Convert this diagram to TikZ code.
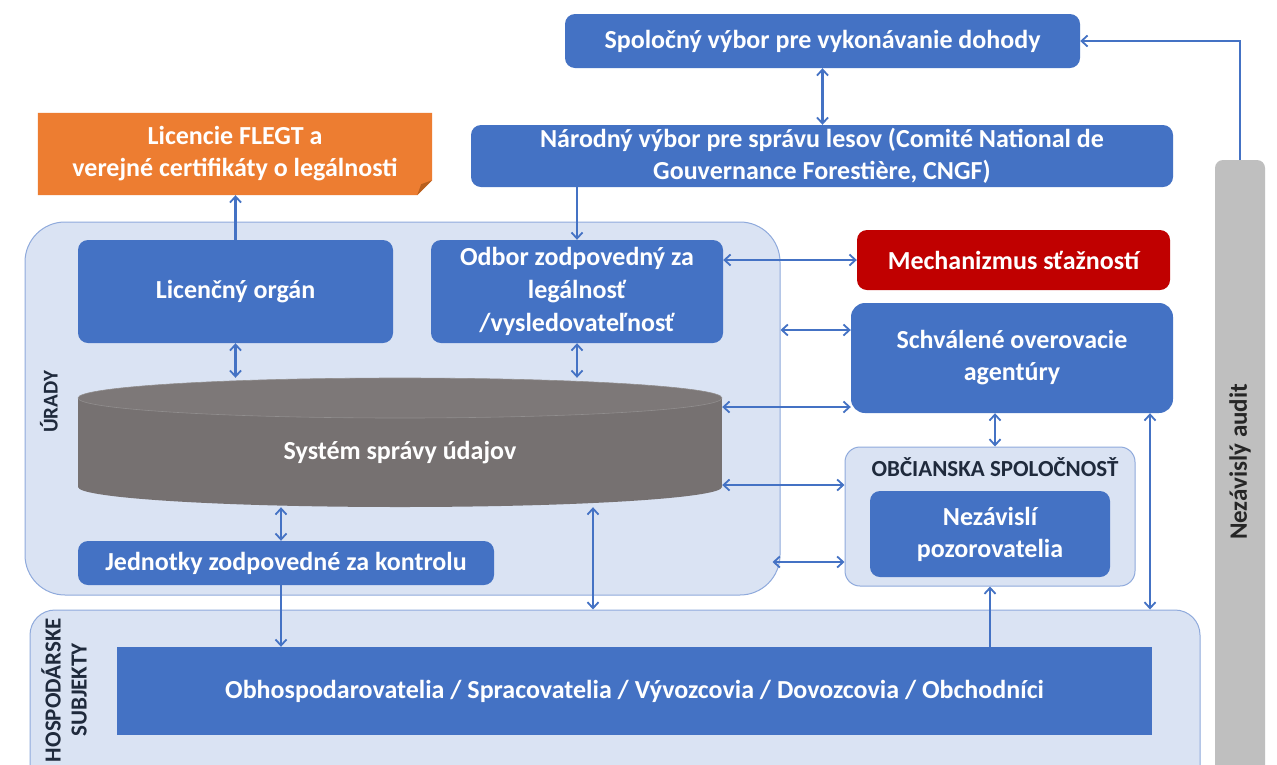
\documentclass[tikz,border=0pt]{standalone}
\usepackage{fontspec}
\setmainfont{Carlito}
\usetikzlibrary{arrows.meta,calc}
\definecolor{bl}{HTML}{4472C4}
\definecolor{contfill}{HTML}{DAE3F3}
\definecolor{contline}{HTML}{8FAADC}
\definecolor{redbox}{HTML}{C00000}
\definecolor{orbox}{HTML}{ED7D31}
\definecolor{orfold}{HTML}{B85F1E}
\definecolor{cylc}{HTML}{767171}
\definecolor{cyltop}{HTML}{7D7878}
\definecolor{auditc}{HTML}{BFBFBF}
\definecolor{lbl}{HTML}{1F2A3C}
\begin{document}
\begin{tikzpicture}[x=1pt,y=-1pt,
  font=\bfseries\fontsize{26}{32}\selectfont,
  box/.style={fill=bl, rounded corners=10pt, text=white, align=center, inner sep=0pt},
  cont/.style={fill=contfill, draw=contline, line width=1pt, inner sep=0pt},
  tip/.tip={Straight Barb[length=6pt,width=11pt,line width=1.8pt]},
  arr/.style={draw=bl, line width=2.2pt, -tip},
  darr/.style={draw=bl, line width=2.2pt, tip-tip},
  lab/.style={text=lbl, align=center, inner sep=0pt}
]
\useasboundingbox (0,0) rectangle (1277,764);
\clip (0,0) rectangle (1277,764);
\fill[white] (0,0) rectangle (1277,764);

% containers
\node[cont, rounded corners=40pt, minimum width=755pt, minimum height=373pt] (urady) at (402.5,408.5) {};
\node[cont, rounded corners=25pt, minimum width=1170pt, minimum height=180pt] (hosp) at (615,700) {};
\node[cont, rounded corners=15pt, minimum width=290pt, minimum height=139pt] (obc) at (990,516.5) {};

% top boxes
\node[box, minimum width=515pt, minimum height=54pt] (spol) at (822.5,41) {Spoločný výbor pre vykonávanie dohody};
\node[box, minimum width=702pt, minimum height=62pt] (narod) at (822,156) {Národný výbor pre správu lesov (Comité National de\\Gouvernance Forestière, CNGF)};

% orange box
\node[inner sep=0pt, minimum width=394pt, minimum height=82pt] (flegt) at (235,154) {};
\fill[orbox] (flegt.north west) -- (flegt.north east) -- ([yshift=15pt]flegt.south east) -- ([xshift=-15pt]flegt.south east) -- (flegt.south west) -- cycle;
\fill[orfold] ([yshift=15pt]flegt.south east) -- ([xshift=-15pt]flegt.south east) -- ([xshift=-11pt,yshift=11pt]flegt.south east) -- cycle;
\node[text=white, align=center, inner sep=0pt] at (flegt.center) {Licencie FLEGT a\\verejné certifikáty o legálnosti};

% inside Urady
\node[box, minimum width=315pt, minimum height=103pt] (licorg) at (235.5,291.5) {Licenčný orgán};
\node[box, minimum width=292pt, minimum height=103pt, font=\bfseries\fontsize{26}{33}\selectfont] (odbor) at (577,291.5) {Odbor zodpovedný za\\legálnosť\\/vysledovateľnosť};

% cylinder
\fill[cylc] (78,398) rectangle (722,487);
\fill[cylc] (400,487) ellipse [x radius=322, y radius=20];
\fill[cyltop] (400,398) ellipse [x radius=322, y radius=20];
\draw[cylc!80!white, line width=0.6pt] (400,398) ellipse [x radius=322, y radius=20];
\node[inner sep=0pt, minimum width=644pt, minimum height=129pt] (db) at (400,442.5) {};
\node[text=white, inner sep=0pt] at (400,453) {Systém správy údajov};

\node[box, minimum width=416pt, minimum height=44pt] (jedn) at (286,563) {Jednotky zodpovedné za kontrolu};

% right side
\node[box, fill=redbox, minimum width=313pt, minimum height=60pt] (mech) at (1013.5,260) {Mechanizmus sťažností};
\node[box, minimum width=322pt, minimum height=110pt, rounded corners=14pt] (schv) at (1012,358) {Schválené overovacie\\agentúry};
\node[box, minimum width=240pt, minimum height=86pt] (nezav) at (990,534) {Nezávislí\\pozorovatelia};

% bottom
\node[box, rounded corners=0pt, minimum width=1035pt, minimum height=88pt] (obh) at (634.5,691) {Obhospodarovatelia / Spracovatelia / Vývozcovia / Dovozcovia / Obchodníci};

% audit bar
\node[fill=auditc, rounded corners=8pt, inner sep=0pt, minimum width=50pt, minimum height=640pt] (audit) at (1240,480) {};

% labels
\node[lab, rotate=90, font=\bfseries\fontsize{21}{24}\selectfont] at (49,402) {ÚRADY};
\node[lab, rotate=90, font=\bfseries\fontsize{23}{26}\selectfont] at (64,690) {HOSPODÁRSKE\\SUBJEKTY};
\node[lab, font=\bfseries\fontsize{23}{26}\selectfont] at (995,467) {OBČIANSKA SPOLOČNOSŤ};
\node[lab, rotate=90, text=black!85, font=\bfseries\fontsize{25}{30}\selectfont] at (1240,462) {Nezávislý audit};

% connectors
\draw[arr] (licorg.north) -- (licorg.north |- flegt.south);
\draw[darr] (spol.south) -- (spol.south |- narod.north);
\draw[arr] (narod.south -| odbor.north) -- (odbor.north);
\draw[darr] (licorg.south) -- (licorg.south |- db.north);
\draw[darr] (odbor.south) -- (odbor.south |- db.north);
\draw[darr] ([xshift=-5pt]jedn.north) -- ([xshift=-5pt]jedn.north |- db.south);
\draw[arr] ([xshift=-5pt]jedn.south) -- ([xshift=-5pt]jedn.south |- obh.north);
\draw[darr] ([xshift=193pt]db.south) -- ([xshift=193pt]db.south |- hosp.north);
\draw[darr] (mech.west -| odbor.east) -- (mech.west);
\draw[darr] ([yshift=28pt]schv.west -| urady.east) -- ([yshift=28pt]schv.west);
\draw[darr] ([yshift=-49pt]schv.west -| db.east) -- ([yshift=-49pt]schv.west);
\draw[darr] ([yshift=31.5pt]obc.west -| db.east) -- ([yshift=31.5pt]obc.west);
\draw[darr] ([xshift=-8pt,yshift=-45.5pt]obc.west -| urady.east) -- ([yshift=-45.5pt]obc.west);
\draw[darr] ([xshift=5pt]obc.north) -- ([xshift=5pt]obc.north |- schv.south);
\draw[darr] ([xshift=138pt]schv.south) -- ([xshift=138pt]schv.south |- hosp.north);
\draw[arr] (obh.north -| obc.south) -- (obc.south);
\draw[arr] (audit.north) |- (spol.east);
\end{tikzpicture}
\end{document}
